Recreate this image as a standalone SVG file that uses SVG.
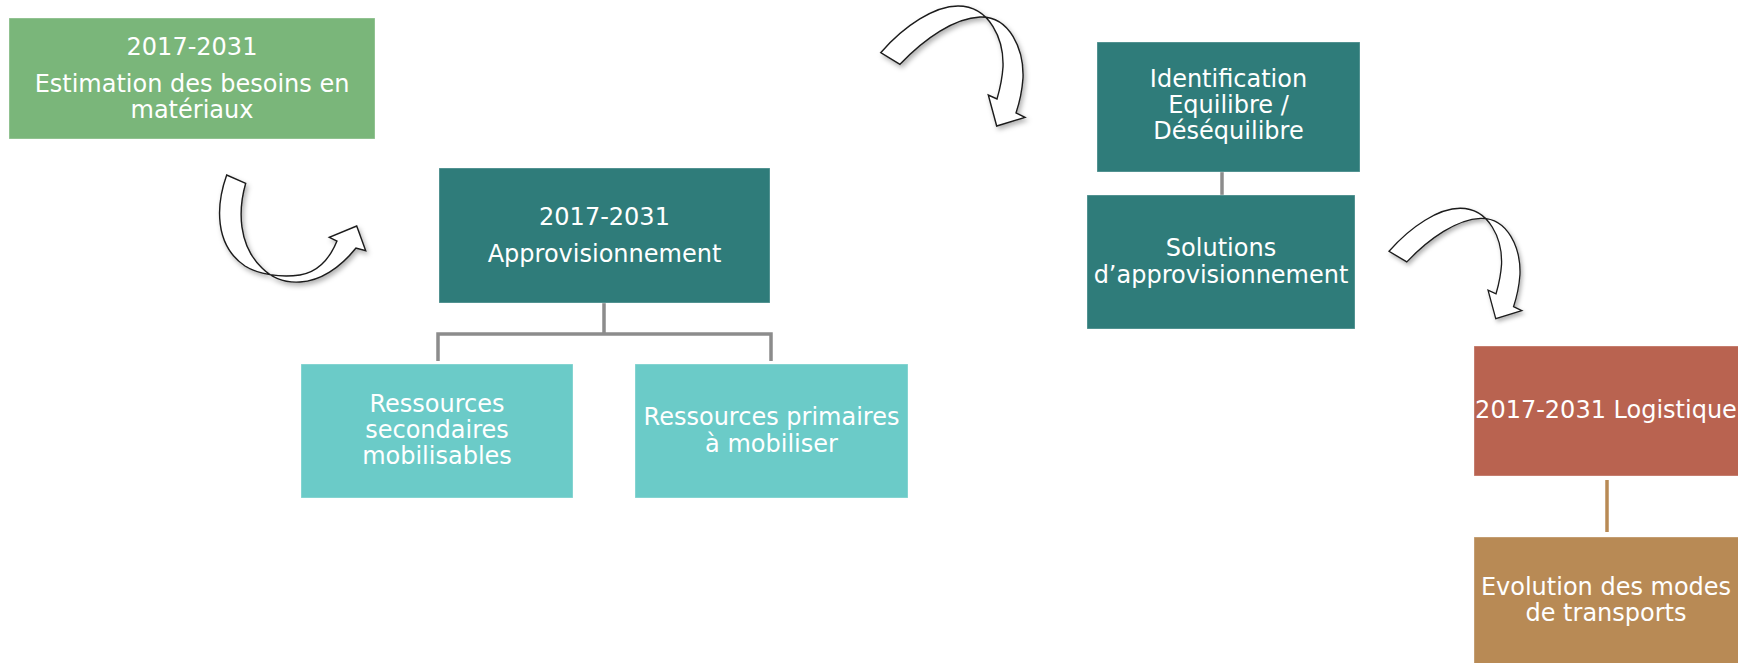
<svg xmlns="http://www.w3.org/2000/svg" width="1738" height="663" viewBox="0 0 1738 663">
<defs>
<style>
.t{font-family:"DejaVu Sans","Liberation Sans",sans-serif;font-size:24px;fill:#ffffff;text-anchor:middle}
.box{stroke:#ffffff;stroke-opacity:0.35;stroke-width:1}
.arrow{fill:#ffffff;stroke:#1a1a1a;stroke-width:1.4;stroke-linejoin:miter;filter:url(#sh)}
.conn{fill:none;stroke:#8C8C8C;stroke-width:3.5}
</style>
<filter id="sh" x="-20%" y="-20%" width="150%" height="150%">
<feDropShadow dx="2" dy="3" stdDeviation="2.5" flood-color="#000" flood-opacity="0.3"/>
</filter>
<path id="curvedDown" d="M900,64.3 L880.7,52.7 C905,25 935,6 958,6 C990,6 1004,40 1003,67 C1002,82 999,92 997,99 L988.3,95 L996.7,126 L1025,117.3 L1016,113 C1019,104 1022,92 1023,78 C1024,50 1010,16 980,17 C955,18 925,38 900,64.3 Z"/>
</defs>
<rect width="1738" height="663" fill="#ffffff"/>

<g id="connectors">
<path class="conn" d="M604,303 V334 M438,361 V334 H771 V361"/>
<path class="conn" d="M1222,172 V195"/>
<path fill="none" stroke="#B88A55" stroke-width="3.5" d="M1607,480 V532"/>
<path class="arrow" d="M245.7,183.3 L226.7,175 C216,205 214,245 245,266 C258,274 280,278 300,275 C318,272 330,258 337,241 L329.3,237.3 L356.7,226 L365.7,250.7 L356,248 C340,268 320,281 300,282 C285,283 272,278 262,268 C238,245 238,210 245.7,183.3 Z"/>
<use href="#curvedDown" class="arrow"/>
<use href="#curvedDown" class="arrow" transform="translate(1485,219.3) scale(0.92) translate(-985,-18)"/>
</g>

<g id="node-besoins">
<rect class="box" x="9" y="18" width="366" height="121" fill="#7AB67A"/>
<text class="t" x="192" y="55">2017-2031</text>
<text class="t" x="192" y="92">Estimation des besoins en</text>
<text class="t" x="192" y="118">matériaux</text>
</g>

<g id="node-approvisionnement">
<rect class="box" x="439" y="168" width="331" height="135" fill="#2F7C7A"/>
<text class="t" x="604.5" y="225">2017-2031</text>
<text class="t" x="604.5" y="262">Approvisionnement</text>
</g>

<g id="node-secondaires">
<rect class="box" x="301" y="364" width="272" height="134" fill="#6BCBC8"/>
<text class="t" x="437" y="412">Ressources</text>
<text class="t" x="437" y="438">secondaires</text>
<text class="t" x="437" y="464">mobilisables</text>
</g>

<g id="node-primaires">
<rect class="box" x="635" y="364" width="273" height="134" fill="#6BCBC8"/>
<text class="t" x="771.5" y="425">Ressources primaires</text>
<text class="t" x="771.5" y="452">à mobiliser</text>
</g>

<g id="node-identification">
<rect class="box" x="1097" y="42" width="263" height="130" fill="#2F7C7A"/>
<text class="t" x="1228.5" y="87">Identification</text>
<text class="t" x="1228.5" y="113">Equilibre /</text>
<text class="t" x="1228.5" y="139">Déséquilibre</text>
</g>

<g id="node-solutions">
<rect class="box" x="1087" y="195" width="268" height="134" fill="#2F7C7A"/>
<text class="t" x="1221" y="256">Solutions</text>
<text class="t" x="1221" y="283">d’approvisionnement</text>
</g>

<g id="node-logistique">
<rect class="box" x="1474" y="346" width="270" height="130" fill="#B96350"/>
<text class="t" x="1606" y="418">2017-2031 Logistique</text>
</g>

<g id="node-transports">
<rect class="box" x="1474" y="537" width="270" height="130" fill="#B88A55"/>
<text class="t" x="1606" y="595">Evolution des modes</text>
<text class="t" x="1606" y="621">de transports</text>
</g>
</svg>
